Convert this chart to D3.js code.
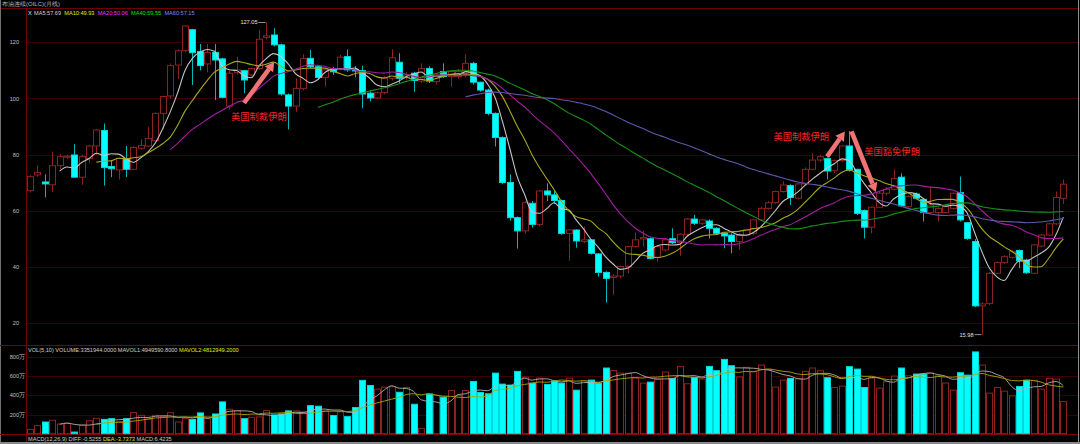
<!DOCTYPE html>
<html><head><meta charset="utf-8">
<script src="https://cdn.jsdelivr.net/npm/d3@7/dist/d3.min.js"></script>
<style>html,body{margin:0;padding:0;background:#000;overflow:hidden}text{font-family:"Liberation Sans",Arial,sans-serif}</style>
</head><body>
<svg id="c" width="1080" height="444"></svg>
<script>
const opens=[67.2,72.8,70.3,69.3,76.1,79.1,79.9,72.0,78.6,83.1,88.6,75.8,74.6,78.5,74.8,82.3,83.1,85.0,94.7,100.9,111.9,117.0,124.5,116.7,112.3,116.4,114.1,97.3,109.2,109.9,108.4,110.7,121.7,122.6,119.1,101.3,97.3,103.6,114.3,111.3,107.5,110.5,110.4,114.9,110.3,109.9,101.9,100.2,102.1,107.2,112.9,107.5,109.0,106.2,110.7,106.0,109.6,107.8,107.8,109.0,112.5,105.8,103.0,94.7,86.1,70.1,57.6,52.9,62.7,55.2,67.1,65.7,63.7,52.0,53.2,49.1,49.7,44.7,38.1,36.3,36.8,40.2,47.3,50.0,50.1,43.5,46.1,50.1,48.7,51.7,57.1,55.6,56.4,53.8,52.0,51.4,49.1,51.4,52.0,56.8,60.9,62.9,66.9,69.0,64.5,69.6,74.8,78.1,78.6,74.3,77.9,83.1,74.8,60.1,54.2,61.3,66.3,67.7,72.0,61.5,66.0,64.1,59.4,59.4,59.4,60.9,66.5,55.8,49.1,26.2,27.1,37.8,41.6,43.5,45.9,42.5,37.8,47.5,51.4,55.4,64.5];
const highs=[72.7,76.2,73.0,81.1,80.2,80.0,83.7,80.0,83.5,89.0,91.1,78.1,79.0,83.1,83.0,85.5,89.8,95.0,101.0,112.5,117.5,126.0,124.8,119.4,119.4,119.4,114.5,110.0,114.9,110.2,111.0,124.4,127.05,125.0,119.5,101.8,107.2,115.8,117.3,111.8,110.5,111.3,115.5,117.5,111.5,111.7,102.5,102.5,108.0,117.5,116.1,109.5,109.5,112.5,111.5,109.0,112.5,110.0,110.5,115.7,113.0,106.0,103.5,95.0,86.5,73.0,58.0,63.5,63.5,67.5,69.8,67.2,64.0,53.5,53.5,54.4,50.0,45.0,38.5,37.5,40.5,47.5,52.3,52.9,50.5,47.8,50.0,53.8,52.0,57.5,58.6,57.2,57.0,54.2,52.5,52.0,52.0,53.5,57.0,61.5,63.5,67.2,70.5,69.5,70.0,75.5,80.5,80.0,79.0,78.3,83.5,88.4,75.0,60.5,61.5,66.8,68.5,74.8,73.4,65.5,66.5,64.5,68.6,61.3,62.0,66.5,72.2,56.0,50.0,27.5,38.3,42.0,44.2,46.0,46.3,43.0,48.2,51.8,55.8,66.9,71.2];
const lows=[66.5,72.2,64.8,66.7,74.8,78.5,71.8,69.3,77.0,80.0,69.0,72.0,71.2,72.0,74.5,81.8,82.8,84.5,89.0,100.0,107.0,116.5,104.8,110.0,109.3,99.5,100.0,96.0,108.5,101.9,107.8,110.2,121.0,118.5,101.0,89.0,95.3,103.0,110.8,106.8,104.2,108.4,110.0,109.5,107.5,96.5,99.0,99.8,101.5,106.5,105.4,106.8,102.4,105.5,105.5,105.0,107.3,104.2,107.0,107.5,105.0,102.4,94.0,82.9,69.5,56.5,46.6,52.0,54.0,54.5,63.5,62.5,51.5,42.3,46.9,48.5,44.5,36.6,27.4,30.1,36.0,37.8,47.0,47.3,42.8,41.9,45.5,48.2,44.0,51.0,55.0,55.0,50.2,51.5,46.7,44.9,46.1,51.0,51.5,56.5,60.5,62.5,66.5,62.1,64.0,69.2,74.5,77.5,71.2,73.5,77.5,74.0,58.5,50.2,52.0,61.0,65.5,67.3,61.3,61.0,64.0,56.2,59.0,56.2,59.0,60.5,56.2,49.7,25.8,15.98,26.5,37.5,41.2,43.0,39.6,37.6,37.5,47.2,51.0,55.0,62.5];
const closes=[72.2,73.7,69.6,76.1,79.3,79.5,72.0,79.3,83.1,88.8,75.4,75.0,78.7,74.8,82.6,83.3,85.8,94.7,100.7,111.7,117.0,125.8,116.3,111.7,116.4,113.7,100.4,109.0,110.2,106.6,110.7,121.1,122.3,119.1,101.6,97.3,103.6,114.2,111.3,107.5,110.2,109.5,114.7,110.2,109.8,101.6,100.2,102.0,107.2,114.5,107.2,108.3,106.4,110.7,106.2,108.4,107.8,109.6,109.6,112.5,105.8,103.0,94.7,86.1,70.1,57.6,52.9,62.9,55.2,67.1,65.7,63.7,52.0,53.2,49.3,49.7,44.9,38.1,36.0,36.8,40.2,47.3,49.7,50.5,43.1,47.3,49.7,48.7,51.7,57.1,55.6,56.8,53.8,52.0,51.1,49.1,51.4,53.2,56.8,60.9,62.9,66.9,69.2,64.8,69.6,74.8,78.1,79.3,74.2,77.9,83.1,74.6,59.1,54.2,61.3,66.3,67.7,71.6,61.8,65.1,64.5,59.4,62.1,60.9,61.5,66.3,56.8,50.2,26.2,26.9,37.8,41.6,43.7,45.5,42.3,38.0,47.9,51.4,55.4,64.8,69.5];
const volumes=[45,84,122,140,101,108,17,87,136,161,150,157,126,157,220,192,150,192,178,220,122,160,150,217,157,206,332,255,241,157,171,175,241,196,206,238,238,227,293,287,238,189,227,178,273,556,503,465,485,490,432,482,307,56,412,400,381,451,398,451,545,430,416,632,517,507,650,590,528,580,514,549,528,580,454,552,559,524,685,660,632,632,580,528,538,570,643,577,702,521,587,570,702,657,775,709,592,692,650,716,674,486,559,577,573,650,685,657,584,482,496,699,674,482,580,475,542,601,685,604,622,622,632,604,528,454,636,611,853,716,423,482,444,395,493,556,556,465,577,570,335];
const priceTicks=[20,40,60,80,100,120];
const volTicks=[200,400,600,800];
const maPeriods=[5,10,20,40,60];
const maColors=["#c4c4c4","#a8a820","#a020a0","#1a901a","#5a5aaa"];
const maLegend=["MA5:57.69","MA10:49.93","MA20:50.06","MA40:59.55","MA60:57.15"];
const maLegendColors=["#d0d0d0","#e8e800","#ff30ff","#00e000","#8c8cff"];
const title="布油连续(OILC)(月线)";
const volLegend=[["VOL(5,10) VOLUME:3351944.0000 MAVOL1:4949590.8000 ","#d0d0d0"],["MAVOL2:4812949.2000","#e8e800"]];
const macdLegend=[["MACD(12,26,9) DIFF:-0.5255 ","#d0d0d0"],["DEA:-3.7373 ","#e8e800"],["MACD:6.4235","#d0d0d0"]];
const notes=[{t:"美国制裁伊朗",i:31.0,p:93.4},{t:"美国制裁伊朗",i:104.5,p:86.4},{t:"美国豁免伊朗",i:116.8,p:81.1}];
const arrows=[{i1:29.0,p1:98.4,i2:33.1,p2:113.0},{i1:108.0,p1:79.3,i2:110.4,p2:88.3},{i1:111.3,p1:88.3,i2:114.6,p2:66.7}];

const RED="#8e2222", CY="#00ffff", GRID="#3c0000", FRAME="#6e0000";
const svg=d3.select("#c");
svg.append("rect").attr("width",1080).attr("height",444).attr("fill","#000");

const n=closes.length;
const x=d3.scaleLinear().domain([0,n-1]).range([30,1063.3]);
const y=d3.scaleLinear().domain([20,120]).range([323.3,42.3]);
const yv=d3.scaleLinear().domain([0,800]).range([433.7,357]);

// frame
svg.append("text").attr("x",2).attr("y",6.2).attr("font-size",6).attr("fill","#b8b8b8").text(title);
svg.append("line").attr("x1",0).attr("x2",1078).attr("y1",8.5).attr("y2",8.5).attr("stroke",FRAME);
svg.append("line").attr("x1",26.5).attr("x2",26.5).attr("y1",8.5).attr("y2",444).attr("stroke",FRAME);
svg.append("line").attr("x1",0.5).attr("x2",0.5).attr("y1",0).attr("y2",444).attr("stroke","#707070");
svg.append("line").attr("x1",1078.5).attr("x2",1078.5).attr("y1",0).attr("y2",444).attr("stroke","#909090");
svg.append("line").attr("x1",0).attr("x2",1078).attr("y1",345.5).attr("y2",345.5).attr("stroke","#7a0000");
svg.append("line").attr("x1",0).attr("x2",1078).attr("y1",434.5).attr("y2",434.5).attr("stroke","#7a0000");
svg.append("rect").attr("x",0).attr("y",442).attr("width",1080).attr("height",2).attr("fill","#8a8a8a");

// price grid and axis
const gP=svg.append("g");
gP.selectAll("line.g").data(priceTicks).join("line")
  .attr("x1",27).attr("x2",1078).attr("y1",d=>Math.round(y(d))+0.5).attr("y2",d=>Math.round(y(d))+0.5)
  .attr("stroke",GRID);
gP.selectAll("text").data(priceTicks).join("text")
  .attr("x",19).attr("y",d=>y(d)+2).attr("text-anchor","end").attr("font-size",5.6).attr("fill","#c0c0c0").text(d=>d);

// volume grid and axis
const gV=svg.append("g");
gV.selectAll("line").data(volTicks).join("line")
  .attr("x1",27).attr("x2",1078).attr("y1",d=>Math.round(yv(d))+0.5).attr("y2",d=>Math.round(yv(d))+0.5)
  .attr("stroke",GRID);
gV.selectAll("text").data(volTicks).join("text")
  .attr("x",25).attr("y",d=>yv(d)+2).attr("text-anchor","end").attr("font-size",5.6).attr("fill","#c0c0c0").text(d=>d+"万");

// candles
const idx=d3.range(n);
const up=i=>closes[i]>=opens[i];
const gC=svg.append("g");
gC.selectAll("line.w").data(idx).join("line")
  .attr("x1",i=>Math.round(x(i))+0.5).attr("x2",i=>Math.round(x(i))+0.5)
  .attr("y1",i=>y(highs[i])).attr("y2",i=>y(lows[i]))
  .attr("stroke",i=>up(i)?RED:"#00b8b8").attr("stroke-width",1);
gC.selectAll("rect").data(idx).join("rect")
  .attr("x",i=>Math.round(x(i))-2.5).attr("width",6)
  .attr("y",i=>y(Math.max(opens[i],closes[i])))
  .attr("height",i=>Math.max(1,Math.abs(y(opens[i])-y(closes[i]))))
  .attr("fill",i=>up(i)?"#000":CY)
  .attr("stroke",i=>up(i)?RED:"#00d8d8").attr("stroke-width",1);

// MAs
function sma(arr,p){return arr.map((v,i)=>i<p-1?null:d3.mean(arr.slice(i-p+1,i+1)));}
const line=d3.line().defined(d=>d[1]!=null).x(d=>x(d[0])).y(d=>d[1]).curve(d3.curveMonotoneX);
maPeriods.forEach((p,k)=>{
  const m=sma(closes,p);
  svg.append("path").attr("d",line(m.map((v,i)=>[i,v==null?null:y(v)])))
    .attr("fill","none").attr("stroke",maColors[k]).attr("stroke-width",1.1);
});

// legend
svg.append("text").attr("x",28).attr("y",15).attr("font-size",5.6).attr("fill","#e0e0e0").text("X");
let lx=34;
maLegend.forEach((t,k)=>{
  const tx=svg.append("text").attr("x",lx).attr("y",15).attr("font-size",5.6).attr("fill",maLegendColors[k]).text(t);
  lx+=tx.node().getComputedTextLength()+3.2;
});

// volume bars
const gB=svg.append("g");
gB.selectAll("rect").data(idx).join("rect")
  .attr("x",i=>Math.round(x(i))-2.5).attr("width",6)
  .attr("y",i=>yv(volumes[i])).attr("height",i=>yv(0)-yv(volumes[i]))
  .attr("fill",i=>up(i)?"#000":CY).attr("stroke",i=>up(i)?RED:"#00d8d8").attr("stroke-width",1);
const mv1=sma(volumes,5), mv2=sma(volumes,10);
svg.append("path").attr("d",line(mv1.map((v,i)=>[i,v==null?null:yv(v)]))).attr("fill","none").attr("stroke","#b0b0b0").attr("stroke-width",0.9);
svg.append("path").attr("d",line(mv2.map((v,i)=>[i,v==null?null:yv(v)]))).attr("fill","none").attr("stroke","#a8a800").attr("stroke-width",0.9);

function legendRow(items,yy){
  let xx=28;
  items.forEach(([t,c])=>{
    const tx=svg.append("text").attr("x",xx).attr("y",yy).attr("font-size",5.6).attr("fill",c).attr("xml:space","preserve").style("white-space","pre").text(t);
    xx+=tx.node().getComputedTextLength();
  });
}
legendRow(volLegend,351.5);
legendRow(macdLegend,440.5);

// high / low labels
const hiI=d3.maxIndex(highs), loI=d3.minIndex(lows);
[[hiI,highs[hiI]],[loI,lows[loI]]].forEach(([i,v])=>{
  const cx=Math.round(x(i))+0.5, cy=y(v);
  svg.append("line").attr("x1",cx-8).attr("x2",cx-1).attr("y1",cy).attr("y2",cy).attr("stroke","#d0d0d0").attr("stroke-width",0.7);
  svg.append("text").attr("x",cx-9).attr("y",cy+2).attr("text-anchor","end").attr("font-size",5.6).attr("fill","#e0e0e0").text(v.toFixed(2));
});

// annotations
arrows.forEach(a=>{
  const x1=x(a.i1),y1=y(a.p1),x2=x(a.i2),y2=y(a.p2);
  const ang=Math.atan2(y2-y1,x2-x1), c=Math.cos(ang), s=Math.sin(ang);
  const hl=9, hw=5.2, bx=x2-hl*c, by=y2-hl*s;
  svg.append("line").attr("x1",x1).attr("y1",y1).attr("x2",bx).attr("y2",by).attr("stroke","#f07474").attr("stroke-width",4.6);
  svg.append("polygon").attr("points",[[x2,y2],[bx+hw*s,by-hw*c],[bx-hw*s,by+hw*c]].map(p=>p.join(",")).join(" ")).attr("fill","#f07474");
});
svg.selectAll("text.note").data(notes).join("text").attr("class","note")
  .attr("x",d=>x(d.i)).attr("y",d=>y(d.p)+3.4).attr("text-anchor","middle")
  .attr("font-size",9.3).attr("fill","#ff2424").style("font-family","'Noto Sans CJK SC',sans-serif").text(d=>d.t);
</script>
</body></html>
